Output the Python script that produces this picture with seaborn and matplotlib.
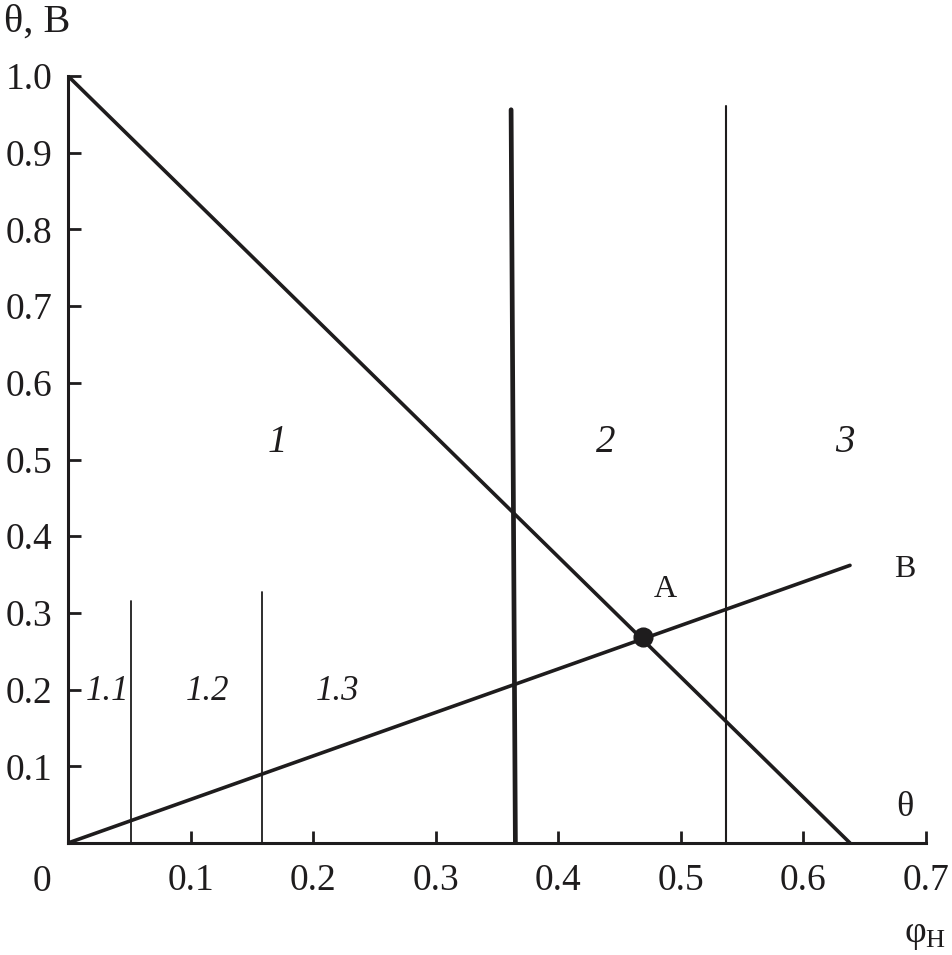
import matplotlib
matplotlib.use("Agg")
import matplotlib.pyplot as plt
import seaborn as sns
import numpy as np

# ── Dados ────────────────────────────────────────────────────────────────────
theta_x = [0.0, 0.638]
theta_y = [1.0, 0.0]
b_x = [0.0, 0.638]
b_y = [0.0, 0.362]
border12_x = [0.3615, 0.365]
border12_y = [0.956, 0.0]
border23_x = [0.537, 0.537]
border23_y = [0.0, 0.961]
sub1_x = [0.051, 0.051]
sub1_y = [0.0, 0.316]
sub2_x = [0.158, 0.158]
sub2_y = [0.0, 0.327]
point_a = ([0.469], [0.268])

x_ticks = [0.1, 0.2, 0.3, 0.4, 0.5, 0.6, 0.7]
y_ticks = [0.1, 0.2, 0.3, 0.4, 0.5, 0.6, 0.7, 0.8, 0.9, 1.0]

zones = ["1", "2", "3"]
zones_x = [0.171, 0.439, 0.634]
subzones = ["1.1", "1.2", "1.3"]
subzones_x = [0.032, 0.114, 0.220]

INK = "#1e1c1d"

sns.set_theme(style="ticks")
plt.rcParams["font.family"] = ["Liberation Serif", "DejaVu Serif"]
plt.rcParams["mathtext.fontset"] = "custom"
plt.rcParams["mathtext.rm"] = "Liberation Serif"

fig = plt.figure(figsize=(9.52, 9.55), dpi=100)
ax = fig.add_axes([68 / 952, 1 - 843 / 955, (926 - 68) / 952, (843 - 76) / 955])

# linhas (sem agregação do seaborn)
linhas = [
    (theta_x, theta_y, 2.6),
    (b_x, b_y, 2.6),
    (border12_x, border12_y, 3.4),
    (border23_x, border23_y, 1.5),
    (sub1_x, sub1_y, 1.3),
    (sub2_x, sub2_y, 1.3),
]
for xs, ys, lw in linhas:
    sns.lineplot(x=xs, y=ys, color=INK, lw=lw, estimator=None, sort=False,
                 errorbar=None, ax=ax)

sns.scatterplot(x=point_a[0], y=point_a[1], color=INK, s=180, edgecolor=INK,
                zorder=5, ax=ax)

ax.set_xlim(0, 0.7)
ax.set_ylim(0, 1.0)
ax.set_xticks(x_ticks)
ax.set_yticks(y_ticks)
ax.set_xticklabels([f"{v:.1f}" for v in x_ticks])
ax.set_yticklabels([f"{v:.1f}" for v in y_ticks])
ax.tick_params(direction="in", length=9, width=2, colors=INK, labelsize=27,
               labelcolor=INK)
ax.tick_params(axis="x", pad=15)
ax.tick_params(axis="y", pad=11)
sns.despine(ax=ax)
for s in ["left", "bottom"]:
    ax.spines[s].set_linewidth(2.2)
    ax.spines[s].set_color(INK)

# rótulos das zonas
for lab, x in zip(zones, zones_x):
    ax.text(x, 0.522, lab, fontsize=28, style="italic", ha="center", va="center", color=INK)
for lab, x in zip(subzones, subzones_x):
    ax.text(x, 0.197, lab, fontsize=25, style="italic", ha="center", va="center", color=INK)

ax.text(0.487, 0.33, "A", fontsize=23, ha="center", va="center", color=INK)
ax.text(0.683, 0.357, "B", fontsize=23, ha="center", va="center", color=INK)
ax.text(0.683, 0.046, "θ", fontsize=26, ha="center", va="center", color=INK)

ax.text(-0.0212, -0.05, "0", fontsize=27, ha="center", va="center", color=INK, clip_on=False)
ax.text(-0.052, 1.07, "θ, B", fontsize=29, ha="left", va="center", color=INK, clip_on=False)
ax.text(0.682, -0.12, r"$\mathregular{φ_Н}$", fontsize=27, ha="left", va="center",
        color=INK, clip_on=False)

fig.savefig("out.png", dpi=100)
plt.close()
